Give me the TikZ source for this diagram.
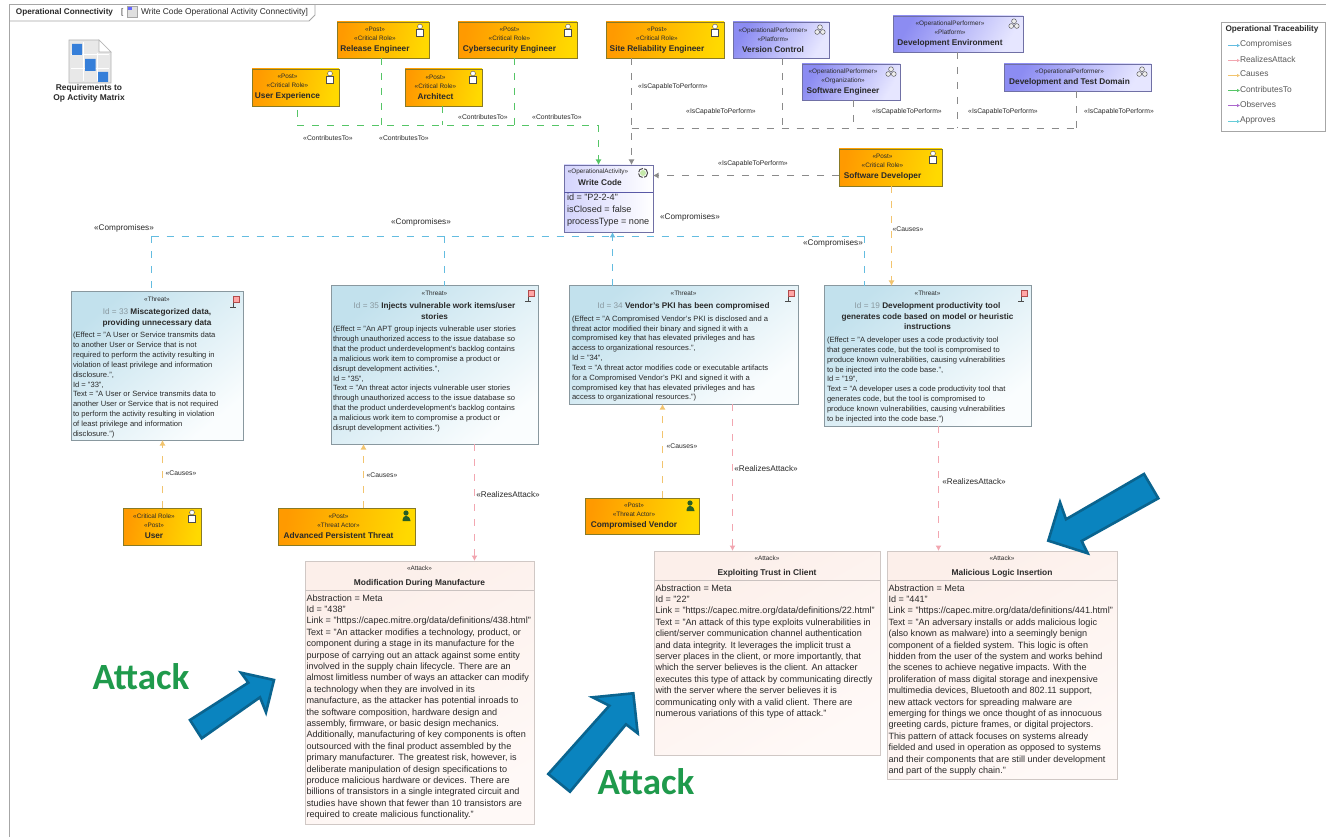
\documentclass[tikz,border=0pt]{standalone}
\usepackage{fontspec}
\setmainfont{Liberation Sans}
\newfontfamily\attackfont{Carlito}
\usetikzlibrary{arrows.meta,calc,positioning}
\definecolor{orA}{HTML}{FF9A00}
\definecolor{orB}{HTML}{FFD900}
\definecolor{puA}{HTML}{8C8CF2}
\definecolor{puB}{HTML}{E6E6FF}
\definecolor{thA}{HTML}{C2E1ED}
\definecolor{thB}{HTML}{FAFDFE}
\definecolor{atA}{HTML}{FCEFEA}
\definecolor{atB}{HTML}{FFF9F7}
\definecolor{cBlue}{HTML}{63BCE0}
\definecolor{cPink}{HTML}{F2A6B0}
\definecolor{cOrange}{HTML}{F2C46E}
\definecolor{cGreen}{HTML}{55C566}
\definecolor{cGrey}{HTML}{8A8A8A}
\definecolor{cViolet}{HTML}{AA66CC}
\definecolor{cTeal}{HTML}{66CCD8}
\definecolor{txt}{HTML}{2A2A2A}
\definecolor{arrowblue}{HTML}{0A84BF}
\definecolor{arrowedge}{HTML}{0A648F}
\definecolor{attackgreen}{HTML}{1F9A4C}
\newcommand\sst{\fontsize{6.4}{9.2}\selectfont}
\newcommand\sname{\fontsize{8.3}{11}\selectfont\bfseries}
\newcommand\sbody{\fontsize{7.6}{9.85}\selectfont}
\newcommand\abody{\fontsize{9.1}{11.4}\selectfont}
\newcommand\ttitle{\fontsize{8.2}{10.7}\selectfont\bfseries}
\newcommand\bx[3]{\begin{minipage}[t][#2pt][t]{#1pt}#3\end{minipage}}
\newcommand\stk[2]{\begin{minipage}{\dimexpr#1pt-16pt\relax}\centering\sst #2\par\end{minipage}\rule{16pt}{0pt}}
\newcommand\tid[1]{{\mdseries\color{gray!85!cyan}Id = #1}}
\tikzset{
  x=1pt,y=-1pt,
  every node/.style={text=txt,inner sep=0pt,outer sep=0pt},
  orangebox/.style={draw=black!45!orB!70!gray,line width=.9pt,left color=orA,right color=orB,shading angle=80,anchor=north west},
  perfbox/.style={draw=black!25!puA!70!gray,line width=.9pt,left color=puA,right color=puB,shading angle=60,anchor=north west},
  threatbox/.style={draw=gray!85!cyan,line width=1pt,left color=thA,right color=thB,shading angle=40,anchor=north west},
  attackbox/.style={draw=gray!35!atA,line width=.9pt,left color=atA,right color=atB,shading angle=30,anchor=north west},
  conn/.style={line width=1.2pt,dash pattern=on 7pt off 8pt},
  tipped/.style={-{Latex[length=5.5pt,width=6pt]}},
  contrib/.style={conn,draw=cGreen},
  capable/.style={conn,draw=cGrey},
  comp/.style={conn,draw=cBlue},
  causes/.style={conn,draw=cOrange},
  realizes/.style={conn,draw=cPink},
  lbl/.style={font=\fontsize{6.8}{8}\selectfont,anchor=center},
  lblb/.style={font=\fontsize{8.2}{9}\selectfont,anchor=center},
  legendtxt/.style={font=\fontsize{8.4}{9}\selectfont,anchor=west,text=black!65},
  legendarrow/.style={line width=1.2pt,-{Latex[length=3pt,width=3.5pt]}},
  bigarrow/.style={draw=arrowedge,line width=2.6pt,fill=arrowblue,line join=miter},
  bigattack/.style={font=\attackfont\bfseries\fontsize{37}{40}\selectfont,text=attackgreen,anchor=center},
  roleicon/.pic={
    \fill[white,draw=gray!60!black,line width=.4pt] (-3.5,-1) rectangle (3.5,6);
    \fill[white,draw=gray!60!black,line width=.4pt] (0,-3.5) circle (2.4);
  },
  actoricon/.pic={
    \fill[green!25!black!85] (0,-3) circle (2.6);
    \fill[green!25!black!85] (-3.5,5) .. controls (-3.5,-2) and (3.5,-2) .. (4.5,5) -- cycle;
  },
  perficon/.pic={
    \draw[gray!50!black,fill=gray!15,line width=.4pt] (0,-2.8) circle (2.4);
    \draw[gray!50!black,fill=gray!15,line width=.4pt] (-2.8,2) circle (2.4);
    \draw[gray!50!black,fill=gray!15,line width=.4pt] (2.8,2) circle (2.4);
  },
  flagicon/.pic={
    \draw[gray!60!black,line width=.7pt] (-2,-5) -- (-2,6) (-5,6) -- (1,6);
    \fill[red!35,draw=gray!60!red,line width=.4pt] (-2,-5) rectangle (4,1);
  },
  acticon/.pic={
    \draw[gray!60!black,fill=white,line width=1pt,dash pattern=on 6pt off 1.5pt] (0,0) circle (4.6);
    \fill[yellow!35!green!35!white] (0,0) circle (3);
  },
  gridicon/.pic={
    \fill[gray!18,draw=gray!60,line width=.6pt] (0,0) -- (30,0) -- (42,12) -- (42,43) -- (0,43) -- cycle;
    \draw[gray!60,line width=.6pt,fill=white] (30,0) -- (30,12) -- (42,12) -- cycle;
    \draw[white,line width=.8pt] (2,14) -- (40,14) (2,28) -- (40,28) (14,2) -- (14,41) (28,13) -- (28,41);
    \fill[blue!55!cyan!75!white!85!black] (3,4) rectangle (13,15) (16,19) rectangle (26.5,31) (29,32) rectangle (39,42);
  },
  tabicon/.pic={
    \fill[gray!25,draw=gray!70,line width=.4pt] (0,0) rectangle (10,11);
    \fill[blue!60] (1,1) rectangle (5,4);
  }
}
\begin{document}
\begin{tikzpicture}
\useasboundingbox (0,0) rectangle (1326,837);
\fill[white] (0,0) rectangle (1326,837);

% frame
\draw[gray!70,line width=.9pt] (9,837) -- (9,4.5) -- (1326,4.5);
\draw[gray!70,line width=.8pt] (9,21) -- (309,21) -- (315,15) -- (315,4.5);
\node[anchor=west,font=\fontsize{8.2}{9}\selectfont\bfseries] (frametitle) at (16,12) {Operational Connectivity};
\node[anchor=west,font=\fontsize{8}{9}\selectfont] (framebr) at (121,12) {[};
\pic at (127,6.5) {tabicon};
\node[anchor=west,font=\fontsize{8.4}{9}\selectfont] (framesub) at (141,12) {Write Code Operational Activity Connectivity]};

% matrix shortcut
\pic at (69,40) {gridicon};
\node[font=\fontsize{8.4}{10.5}\selectfont\bfseries,align=center,anchor=north] (matrix) at (89,84) {Requirements to\\Op Activity Matrix};

% role boxes
\node[orangebox,minimum width=92pt,minimum height=36pt] (re) at (337,22) {\stk{92}{«Post»\\«Critical Role»\\\sname Release Engineer}};
\node[orangebox,minimum width=119pt,minimum height=36pt] (ce) at (458,22) {\stk{119}{«Post»\\«Critical Role»\\\sname Cybersecurity Engineer}};
\node[orangebox,minimum width=118pt,minimum height=36pt] (sre) at (606,22) {\stk{118}{«Post»\\«Critical Role»\\\sname Site Reliability Engineer}};
\node[orangebox,minimum width=87pt,minimum height=37pt] (ux) at (252,69) {\stk{87}{«Post»\\«Critical Role»\\\sname User Experience}};
\node[orangebox,minimum width=77pt,minimum height=37pt] (ar) at (405,69) {\stk{77}{«Post»\\«Critical Role»\\\sname Architect}};
\node[orangebox,minimum width=103pt,minimum height=37pt] (sd) at (839,149) {\stk{103}{«Post»\\«Critical Role»\\\sname Software Developer}};
\node[orangebox,minimum width=78pt,minimum height=37pt] (user) at (123,508) {\stk{78}{«Critical Role»\\«Post»\\\sname User}};
\node[orangebox,minimum width=137pt,minimum height=37pt] (apt) at (278,508) {\stk{137}{«Post»\\«Threat Actor»\\\sname Advanced Persistent Threat}};
\node[orangebox,minimum width=114pt,minimum height=36pt] (cv) at (585,498) {\stk{114}{«Post»\\«Threat Actor»\\\sname Compromised Vendor}};
\foreach \n in {re,ce,sre,ux,ar,sd,user}{\pic at ($(\n.north east)+(-9,8)$) {roleicon};}
\foreach \n in {apt,cv}{\pic at ($(\n.north east)+(-9,8)$) {actoricon};}

% performer boxes
\node[perfbox,minimum width=96pt,minimum height=36pt] (vc) at (733,22) {\stk{96}{«OperationalPerformer»\\«Platform»\\\sname Version Control}};
\node[perfbox,minimum width=130pt,minimum height=36pt] (de) at (893,16) {\stk{130}{«OperationalPerformer»\\«Platform»\\\sname Development Environment}};
\node[perfbox,minimum width=98pt,minimum height=36pt] (se) at (802,64) {\stk{98}{«OperationalPerformer»\\«Organization»\\\sname Software Engineer}};
\node[perfbox,minimum width=147pt,minimum height=27pt] (dt) at (1004,64) {\stk{147}{«OperationalPerformer»\\\sname Development and Test Domain}};
\foreach \n in {vc,de,se,dt}{\pic at ($(\n.north east)+(-9,8)$) {perficon};}

% activity
\node[perfbox,left color=puB!80!puA,right color=white,minimum width=89pt,minimum height=67pt] (wc) at (564,165) {};
\node[font=\sst,anchor=center] (wcst) at (598,172) {«OperationalActivity»};
\node[font=\sname,anchor=center] (wcname) at (600,183) {Write Code};
\draw[gray!70!blue,line width=.8pt] ($(wc.north west)+(0,27)$) -- ($(wc.north east)+(0,27)$);
\node[anchor=north west,align=left,font=\fontsize{9.1}{11.8}\selectfont] (wcbody) at (567,194) {id = "P2-2-4"\\isClosed = false\\processType = none};
\pic at (643,173) {acticon};

% threats
\node[threatbox] (t33) at (71,292) {\bx{172}{148}{\vspace{5pt}{\centering\sst «Threat»\\[2pt]\ttitle\tid{33} Miscategorized data,\\providing unnecessary data\par}\vspace{3pt}\leftskip=2pt\sbody (Effect = "A User or Service transmits data\\to another User or Service that is not\\required to perform the activity resulting in\\violation of least privilege and information\\disclosure.",\\Id = "33",\\Text = "A User or Service transmits data to\\another User or Service that is not required\\to perform the activity resulting in violation\\of least privilege and information\\disclosure.")\par}};
\node[threatbox] (t35) at (331,286) {\bx{207}{158}{\vspace{5pt}{\centering\sst «Threat»\\[2pt]\ttitle\tid{35} Injects vulnerable work items/user\\stories\par}\vspace{3pt}\leftskip=2pt\sbody (Effect = "An APT group injects vulnerable user stories\\through unauthorized access to the issue database so\\that the product underdevelopment's backlog contains\\a malicious work item to compromise a product or\\disrupt development activities.",\\Id = "35",\\Text = "An threat actor injects vulnerable user stories\\through unauthorized access to the issue database so\\that the product underdevelopment's backlog contains\\a malicious work item to compromise a product or\\disrupt development activities.")\par}};
\node[threatbox] (t34) at (569,286) {\bx{229}{118}{\vspace{5pt}{\centering\sst «Threat»\\[2pt]\ttitle\tid{34} Vendor's PKI has been compromised\par}\vspace{3pt}\leftskip=3pt\sbody (Effect = "A Compromised Vendor's PKI is disclosed and a\\threat actor modified their binary and signed it with a\\compromised key that has elevated privileges and has\\access to organizational resources.",\\Id = "34",\\Text = "A threat actor modifies code or executable artifacts\\for a Compromised Vendor's PKI and signed it with a\\compromised key that has elevated privileges and has\\access to organizational resources.")\par}};
\node[threatbox] (t19) at (824,286) {\bx{207}{140}{\vspace{5pt}{\centering\sst «Threat»\\[2pt]\ttitle\tid{19} Development productivity tool\\generates code based on model or heuristic\\instructions\par}\vspace{3pt}\leftskip=3pt\sbody (Effect = "A developer uses a code productivity tool\\that generates code, but the tool is compromised to\\produce known vulnerabilities, causing vulnerabilities\\to be injected into the code base.",\\Id = "19",\\Text = "A developer uses a code productivity tool that\\generates code, but the tool is compromised to\\produce known vulnerabilities, causing vulnerabilities\\to be injected into the code base.")\par}};
\foreach \n in {t33,t35,t34,t19}{\pic at ($(\n.north east)+(-8,9)$) {flagicon};}

% attacks
\node[attackbox] (a438) at (305,561) {\bx{229}{263}{\vspace{5pt}{\centering\sst «Attack»\\[5pt]\fontsize{8.4}{10}\selectfont\bfseries Modification During Manufacture\par}\vspace{4pt}\leftskip=1.5pt\abody Abstraction = Meta\\Id = "438"\\Link = "https://capec.mitre.org/data/definitions/438.html"\\Text = "An attacker modifies a technology, product, or\\component during a stage in its manufacture for the\\purpose of carrying out an attack against some entity\\involved in the supply chain lifecycle. There are an\\almost limitless number of ways an attacker can modify\\a technology when they are involved in its\\manufacture, as the attacker has potential inroads to\\the software composition, hardware design and\\assembly, firmware, or basic design mechanics.\\Additionally, manufacturing of key components is often\\outsourced with the final product assembled by the\\primary manufacturer. The greatest risk, however, is\\deliberate manipulation of design specifications to\\produce malicious hardware or devices. There are\\billions of transistors in a single integrated circuit and\\studies have shown that fewer than 10 transistors are\\required to create malicious functionality."\par}};
\node[attackbox] (a22) at (654,551) {\bx{226}{204}{\vspace{5pt}{\centering\sst «Attack»\\[5pt]\fontsize{8.4}{10}\selectfont\bfseries Exploiting Trust in Client\par}\vspace{4pt}\leftskip=1.5pt\abody Abstraction = Meta\\Id = "22"\\Link = "https://capec.mitre.org/data/definitions/22.html"\\Text = "An attack of this type exploits vulnerabilities in\\client/server communication channel authentication\\and data integrity. It leverages the implicit trust a\\server places in the client, or more importantly, that\\which the server believes is the client. An attacker\\executes this type of attack by communicating directly\\with the server where the server believes it is\\communicating only with a valid client. There are\\numerous variations of this type of attack."\par}};
\node[attackbox] (a441) at (887,551) {\bx{230}{228}{\vspace{5pt}{\centering\sst «Attack»\\[5pt]\fontsize{8.4}{10}\selectfont\bfseries Malicious Logic Insertion\par}\vspace{4pt}\leftskip=1.5pt\abody Abstraction = Meta\\Id = "441"\\Link = "https://capec.mitre.org/data/definitions/441.html"\\Text = "An adversary installs or adds malicious logic\\(also known as malware) into a seemingly benign\\component of a fielded system. This logic is often\\hidden from the user of the system and works behind\\the scenes to achieve negative impacts. With the\\proliferation of mass digital storage and inexpensive\\multimedia devices, Bluetooth and 802.11 support,\\new attack vectors for spreading malware are\\emerging for things we once thought of as innocuous\\greeting cards, picture frames, or digital projectors.\\This pattern of attack focuses on systems already\\fielded and used in operation as opposed to systems\\and their components that are still under development\\and part of the supply chain."\par}};
\foreach \n in {a438,a22,a441}{\draw[gray!40!atA,line width=.8pt] ($(\n.north west)+(0,29)$) -- ($(\n.north east)+(0,29)$);}

% bus coordinates
\coordinate (gbus) at (598.5,125.5);
\coordinate (gtip) at (598.5,165);
\coordinate (cbus) at (631.5,128.5);
\coordinate (ctip) at (631.5,165);
\coordinate (bbusL) at (151.5,236.5);
\coordinate (bbusR) at (864.5,236.5);
\coordinate (btip) at (612.5,232);

% contributes to
\draw[contrib] (297.5,110) -- (297.5,125.5) -- (gbus);
\draw[contrib] (re.south -| 381.5,0) -- (381.5,125.5);
\draw[contrib] (ar.south -| 442.5,0) -- (442.5,125.5);
\draw[contrib] (ce.south -| 514.5,0) -- (514.5,125.5);
\draw[contrib,tipped] (gbus) -- (gtip);

% capable to perform
\draw[capable,tipped] (sre.south -| ctip) -- (ctip);
\draw[capable] (cbus) -- (1076.5,128.5);
\draw[capable] (vc.south -| 782.5,0) -- (782.5,128.5);
\draw[capable] (se.south -| 853.5,0) -- (853.5,128.5);
\draw[capable] (de.south -| 957.5,0) -- (957.5,128.5);
\draw[capable] (dt.south -| 1076.5,0) -- (1076.5,128.5);
\draw[capable,tipped] (sd.west |- 0,175.5) -- (wc.east |- 0,175.5);

% compromises
\draw[comp] (bbusL) -- (bbusR);
\draw[comp] (bbusL) -- (t33.north -| bbusL);
\draw[comp] (444.5,236.5) -- (t35.north -| 444.5,0);
\draw[comp,tipped] (t34.north -| btip) -- (btip);
\draw[comp] (bbusR) -- (t19.north -| bbusR);

% causes
\draw[causes,tipped] (sd.south -| 891.5,0) -- (t19.north -| 891.5,0);
\draw[causes,tipped] (user.north -| 162.5,0) -- (t33.south -| 162.5,0);
\draw[causes,tipped] (apt.north -| 363.5,0) -- (t35.south -| 363.5,0);
\draw[causes,tipped] (cv.north -| 662.5,0) -- (t34.south -| 662.5,0);

% realizes attack
\draw[realizes,tipped] (t35.south -| 474.5,0) -- (a438.north -| 474.5,0);
\draw[realizes,tipped] (t34.south -| 732.5,0) -- (a22.north -| 732.5,0);
\draw[realizes,tipped] (t19.south -| 938.5,0) -- (a441.north -| 938.5,0);

% connector labels
\node[lbl] (l1) at (328,138) {«ContributesTo»};
\node[lbl] (l2) at (404,138) {«ContributesTo»};
\node[lbl] (l3) at (483,117) {«ContributesTo»};
\node[lbl] (l4) at (557,117) {«ContributesTo»};
\node[lbl] (l5) at (673,87) {«IsCapableToPerform»};
\node[lbl] (l6) at (721,112) {«IsCapableToPerform»};
\node[lbl] (l7) at (907,112) {«IsCapableToPerform»};
\node[lbl] (l8) at (1003,112) {«IsCapableToPerform»};
\node[lbl] (l9) at (1119,112) {«IsCapableToPerform»};
\node[lbl] (l10) at (753,164) {«IsCapableToPerform»};
\node[lblb] (l11) at (124,228) {«Compromises»};
\node[lblb] (l12) at (421,222) {«Compromises»};
\node[lblb] (l13) at (690,217) {«Compromises»};
\node[lblb] (l14) at (833,243) {«Compromises»};
\node[lbl] (l15) at (181,473) {«Causes»};
\node[lbl] (l16) at (382,475) {«Causes»};
\node[lbl] (l17) at (682,446) {«Causes»};
\node[lbl] (l18) at (908,229) {«Causes»};
\node[lblb] (l19) at (508,495) {«RealizesAttack»};
\node[lblb] (l20) at (766,469) {«RealizesAttack»};
\node[lblb] (l21) at (974,482) {«RealizesAttack»};

% legend
\node[draw=gray!70,line width=1pt,fill=white,minimum width=104pt,minimum height=109pt,anchor=north west] (legend) at (1221,22.5) {};
\node[anchor=center,font=\fontsize{8.2}{9}\selectfont\bfseries] (legtitle) at (1272,29) {Operational Traceability};
\foreach \t/\c/\y/\i in {Compromises/cBlue/44/a,RealizesAttack/cPink/59/b,Causes/cOrange/74/c,ContributesTo/cGreen/89/d,Observes/cViolet/104/e,Approves/cTeal/120/f}{
  \node[legendtxt] (leg\i) at (1240,\y) {\t};
  \coordinate (legs\i) at (1228,\y+1.5);
  \draw[legendarrow,draw=\c] (legs\i) -- (leg\i.west |- legs\i);
}

% overlays
\draw[bigarrow] (190,720) -- (248.3,682.7) -- (241,672.7) -- (274,680) -- (266,712.3) -- (260,697.3) -- (201.7,738.3) -- cycle;
\draw[bigarrow] (548.3,774) -- (609.3,705.7) -- (592.7,697.3) -- (633.3,693.3) -- (637.7,733.3) -- (626,724.3) -- (570,791.7) -- cycle;
\draw[bigarrow] (1144,474) -- (1158.3,498.3) -- (1081.7,541) -- (1087.7,553.3) -- (1048.3,540.7) -- (1060,502.3) -- (1066,519.3) -- cycle;
\node[bigattack] (att1) at (141,677) {Attack};
\node[bigattack] (att2) at (646,782) {Attack};
\end{tikzpicture}
\end{document}
